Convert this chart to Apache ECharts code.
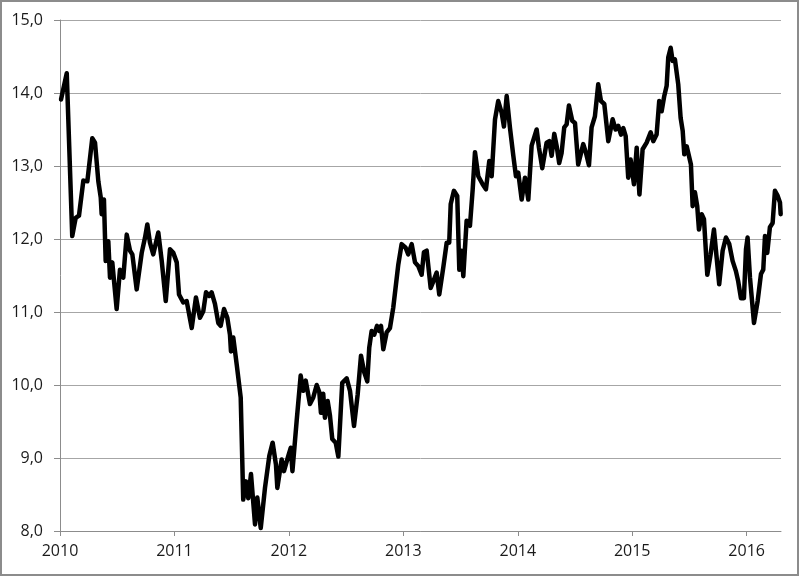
<!DOCTYPE html>
<html>
<head>
<meta charset="utf-8">
<script src="https://cdn.jsdelivr.net/npm/echarts@6/dist/echarts.min.js"></script>
<style>
  html, body { margin: 0; padding: 0; background: #fff; }
  #chart { width: 800px; height: 577px; }
</style>
</head>
<body>
<div id="chart"></div>
<script>
// Decimal-year positions of the line's vertices
const years = [
  2010.009, 2010.059, 2010.107, 2010.137, 2010.166, 2010.204, 2010.239, 2010.282, 2010.306, 2010.335,
  2010.356, 2010.364, 2010.384, 2010.399, 2010.422, 2010.437, 2010.457, 2010.495, 2010.524, 2010.553,
  2010.583, 2010.612, 2010.632, 2010.670, 2010.714, 2010.743, 2010.763, 2010.786, 2010.815, 2010.859,
  2010.889, 2010.924, 2010.961, 2010.990, 2011.020, 2011.040, 2011.077, 2011.107, 2011.151, 2011.188,
  2011.223, 2011.252, 2011.276, 2011.304, 2011.325, 2011.354, 2011.383, 2011.404, 2011.433, 2011.462,
  2011.485, 2011.494, 2011.514, 2011.544, 2011.579, 2011.601, 2011.625, 2011.645, 2011.669, 2011.704,
  2011.724, 2011.754, 2011.791, 2011.829, 2011.858, 2011.887, 2011.899, 2011.937, 2011.957, 2011.995,
  2012.016, 2012.031, 2012.068, 2012.103, 2012.126, 2012.147, 2012.184, 2012.213, 2012.243, 2012.266,
  2012.280, 2012.300, 2012.315, 2012.339, 2012.359, 2012.379, 2012.409, 2012.432, 2012.466, 2012.505,
  2012.534, 2012.569, 2012.601, 2012.630, 2012.659, 2012.685, 2012.702, 2012.723, 2012.746, 2012.770,
  2012.790, 2012.805, 2012.825, 2012.854, 2012.883, 2012.912, 2012.956, 2012.985, 2013.020, 2013.043,
  2013.073, 2013.102, 2013.130, 2013.160, 2013.180, 2013.204, 2013.239, 2013.262, 2013.291, 2013.314,
  2013.349, 2013.379, 2013.401, 2013.414, 2013.442, 2013.471, 2013.489, 2013.510, 2013.524, 2013.553,
  2013.582, 2013.606, 2013.626, 2013.655, 2013.693, 2013.722, 2013.751, 2013.772, 2013.801, 2013.829,
  2013.859, 2013.879, 2013.903, 2013.932, 2013.961, 2013.984, 2014.004, 2014.034, 2014.063, 2014.092,
  2014.121, 2014.165, 2014.185, 2014.214, 2014.252, 2014.275, 2014.296, 2014.319, 2014.340, 2014.362,
  2014.383, 2014.406, 2014.427, 2014.447, 2014.476, 2014.500, 2014.528, 2014.572, 2014.596, 2014.622,
  2014.645, 2014.674, 2014.703, 2014.727, 2014.756, 2014.791, 2014.829, 2014.855, 2014.878, 2014.902,
  2014.922, 2014.943, 2014.965, 2014.986, 2015.015, 2015.039, 2015.063, 2015.091, 2015.126, 2015.161,
  2015.184, 2015.213, 2015.236, 2015.257, 2015.280, 2015.301, 2015.315, 2015.336, 2015.353, 2015.373,
  2015.402, 2015.423, 2015.441, 2015.455, 2015.476, 2015.513, 2015.528, 2015.548, 2015.568, 2015.583,
  2015.607, 2015.627, 2015.656, 2015.685, 2015.714, 2015.738, 2015.760, 2015.790, 2015.819, 2015.848,
  2015.877, 2015.906, 2015.926, 2015.950, 2015.976, 2015.994, 2016.008, 2016.029, 2016.064, 2016.096,
  2016.125, 2016.145, 2016.160, 2016.180, 2016.203, 2016.227, 2016.247, 2016.271, 2016.291, 2016.297
];

// Series values at those positions
const values = [
  13.91, 14.27, 12.04, 12.29, 12.32, 12.80, 12.79, 13.38, 13.32, 12.79,
  12.57, 12.34, 12.54, 11.70, 11.97, 11.47, 11.68, 11.04, 11.58, 11.47,
  12.06, 11.84, 11.79, 11.31, 11.81, 12.02, 12.20, 11.95, 11.79, 12.09,
  11.70, 11.15, 11.86, 11.81, 11.68, 11.24, 11.13, 11.15, 10.78, 11.20,
  10.92, 11.01, 11.27, 11.22, 11.27, 11.11, 10.85, 10.81, 11.04, 10.92,
  10.69, 10.46, 10.65, 10.28, 9.83, 8.43, 8.68, 8.45, 8.78, 8.09,
  8.46, 8.04, 8.59, 9.03, 9.21, 8.91, 8.59, 8.98, 8.82, 9.03,
  9.14, 8.82, 9.51, 10.13, 9.92, 10.06, 9.74, 9.83, 10.00, 9.90,
  9.62, 9.88, 9.55, 9.78, 9.58, 9.26, 9.21, 9.02, 10.03, 10.09,
  9.92, 9.44, 9.87, 10.40, 10.17, 10.05, 10.51, 10.74, 10.69, 10.81,
  10.74, 10.81, 10.49, 10.72, 10.78, 11.06, 11.65, 11.93, 11.88, 11.79,
  11.93, 11.68, 11.63, 11.51, 11.82, 11.84, 11.33, 11.42, 11.54, 11.24,
  11.61, 11.95, 11.95, 12.48, 12.66, 12.59, 11.58, 11.84, 11.49, 12.25,
  12.18, 12.68, 13.19, 12.86, 12.75, 12.68, 13.07, 12.86, 13.64, 13.89,
  13.73, 13.54, 13.96, 13.52, 13.14, 12.86, 12.91, 12.54, 12.84, 12.54,
  13.28, 13.50, 13.25, 12.97, 13.32, 13.34, 13.14, 13.44, 13.27, 13.04,
  13.18, 13.53, 13.57, 13.83, 13.62, 13.59, 13.02, 13.30, 13.18, 13.01,
  13.53, 13.68, 14.12, 13.89, 13.85, 13.34, 13.64, 13.50, 13.55, 13.43,
  13.52, 13.41, 12.84, 13.09, 12.75, 13.25, 12.61, 13.23, 13.32, 13.46,
  13.34, 13.43, 13.89, 13.75, 13.96, 14.10, 14.49, 14.62, 14.44, 14.46,
  14.12, 13.66, 13.48, 13.16, 13.27, 13.02, 12.45, 12.64, 12.45, 12.13,
  12.34, 12.27, 11.51, 11.79, 12.13, 11.74, 11.38, 11.84, 12.02, 11.93,
  11.70, 11.56, 11.42, 11.19, 11.19, 11.86, 12.02, 11.47, 10.85, 11.15,
  11.52, 11.58, 12.04, 11.81, 12.16, 12.22, 12.66, 12.59, 12.50, 12.34
];

// Axis tick labels
const xTickYears = [2010, 2011, 2012, 2013, 2014, 2015, 2016];
const yTicks = [8, 9, 10, 11, 12, 13, 14, 15];

const seriesData = years.map((y, i) => [y, values[i]]);

const chart = echarts.init(document.getElementById('chart'), null, { renderer: 'canvas' });
const fontFamily = "'Open Sans', 'Liberation Sans', sans-serif";

chart.setOption({
  animation: false,
  backgroundColor: '#ffffff',
  grid: { left: 60, right: 19, top: 20, bottom: 46, containLabel: false },
  graphic: [{
    type: 'rect',
    shape: { x: 1, y: 1, width: 797, height: 574 },
    style: { fill: 'none', stroke: '#8c8c8c', lineWidth: 2 },
    silent: true,
    z: 100
  }],
  xAxis: {
    type: 'value',
    min: 2010,
    max: 2016.3,
    interval: 1,
    axisLine: { show: true, lineStyle: { color: '#8c8c8c', width: 1 } },
    axisTick: { show: true, length: 5, customValues: xTickYears, lineStyle: { color: '#8c8c8c' } },
    splitLine: { show: false },
    axisLabel: {
      customValues: xTickYears,
      formatter: v => String(Math.round(v)),
      color: '#1a1a1a',
      fontSize: 16,
      fontFamily: fontFamily,
      margin: 12
    }
  },
  yAxis: {
    type: 'value',
    min: yTicks[0],
    max: yTicks[yTicks.length - 1],
    interval: 1,
    axisLine: { show: true, lineStyle: { color: '#8c8c8c', width: 1 } },
    axisTick: { show: true, length: 6, lineStyle: { color: '#8c8c8c' } },
    splitLine: { show: true, lineStyle: { color: '#a6a6a6', width: 1 } },
    axisLabel: {
      formatter: v => v.toFixed(1).replace('.', ','),
      color: '#1a1a1a',
      fontSize: 16,
      fontFamily: fontFamily,
      margin: 17
    }
  },
  series: [{
    type: 'line',
    data: seriesData,
    showSymbol: false,
    symbol: 'none',
    smooth: false,
    lineStyle: { color: '#000000', width: 4.5, join: 'round', cap: 'round' },
    z: 10
  }]
});
</script>
</body>
</html>
